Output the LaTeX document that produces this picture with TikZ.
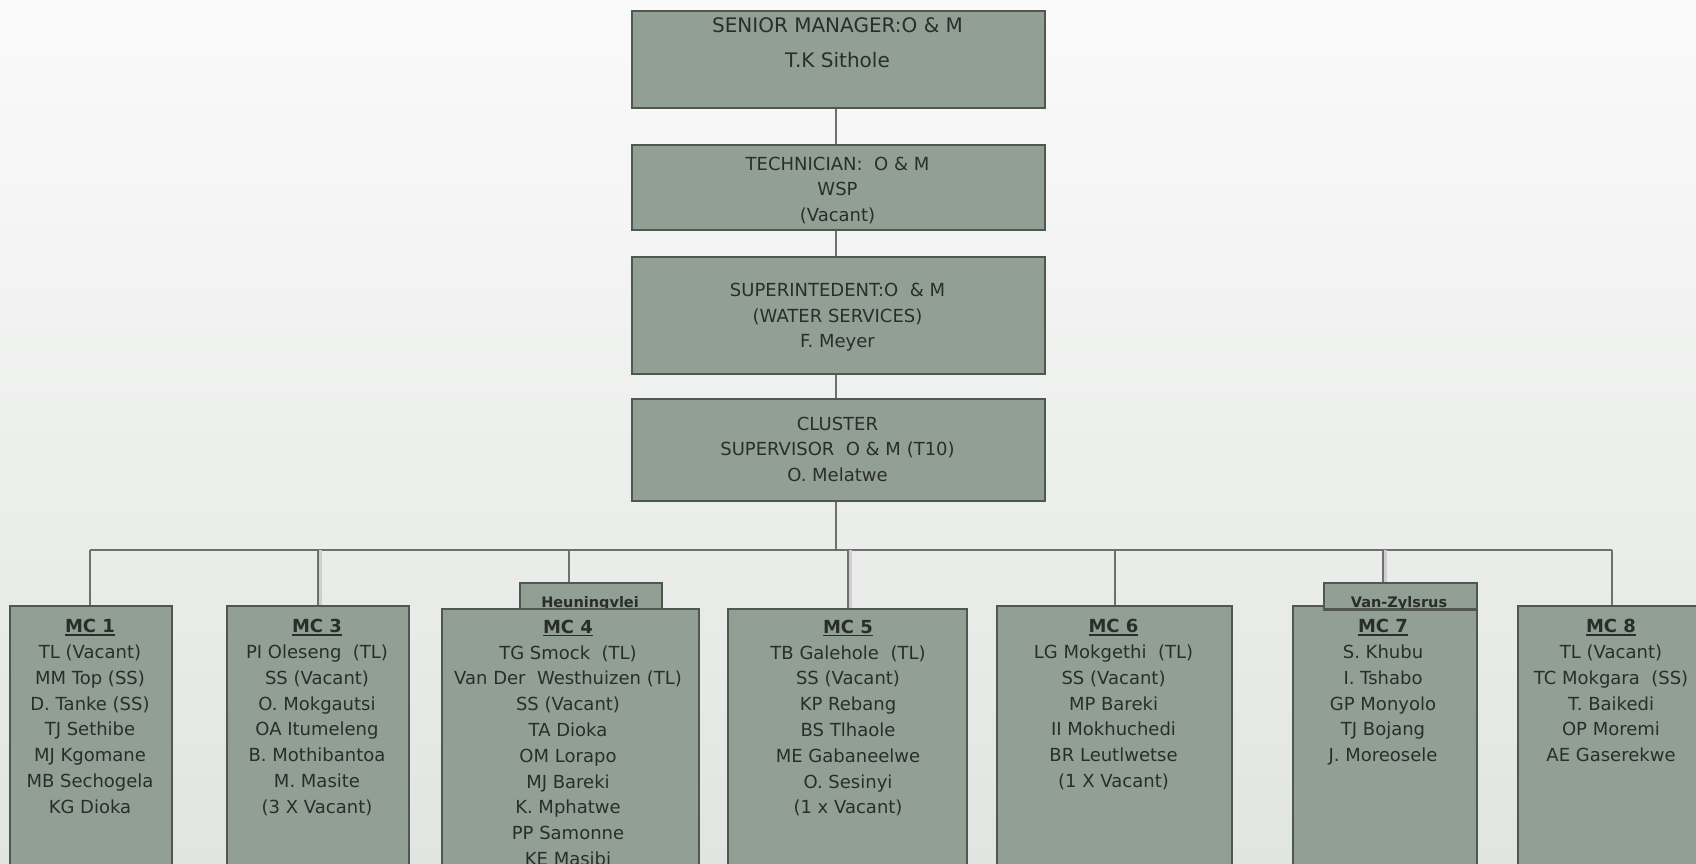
\documentclass[tikz,border=0pt]{standalone}
\usepackage{fontspec}
\setmainfont{DejaVu Sans}
\usetikzlibrary{calc}

\definecolor{bgtop}{HTML}{FAFAFA}
\definecolor{bgbot}{HTML}{E1E5E1}
\definecolor{boxfill}{HTML}{929F95}
\definecolor{boxline}{HTML}{505751}
\definecolor{connline}{HTML}{6F6F6F}
\definecolor{connlight}{HTML}{CFCFCF}
\definecolor{inkc}{HTML}{2A2E2B}

% bold, underlined heading of a maintenance crew box
\newcommand\crewhead[1]{\setbox0\hbox{\bfseries #1}\rlap{\color{inkc}\rule[-3pt]{\wd0}{1.6pt}}\box0}

\tikzset{
  orgbox/.style={draw=boxline, fill=boxfill, line width=2pt, inner sep=0pt,
                 anchor=north west, rectangle},
  bodytext/.style={text=inkc, inner sep=0pt, anchor=north, align=center,
                   font=\fontsize{18}{25.8}\selectfont},
  toptext/.style={bodytext, font=\fontsize{18}{25.5}\selectfont},
  bigtext/.style={bodytext, font=\fontsize{20}{35}\selectfont},
  tabtext/.style={text=inkc, inner sep=0pt, anchor=base,
                  font=\fontsize{14.5}{16}\selectfont\bfseries},
  conn/.style={draw=connline, line width=2pt},
  busline/.style={draw=connline, line width=2.5pt},
  softconn/.style={draw=connlight, line width=3pt},
}

\begin{document}
\begin{tikzpicture}[x=1pt, y=-1pt]
  \useasboundingbox (0,0) rectangle (1696,864);
  \clip (0,0) rectangle (1696,864);
  \shade[top color=bgtop, bottom color=bgbot] (0,0) rectangle (1696,864);

  % management chain
  \node[orgbox, minimum width=413pt, minimum height=97pt]  (senior)  at (631,10)  {};
  \node[orgbox, minimum width=413pt, minimum height=85pt]  (tech)    at (631,144) {};
  \node[orgbox, minimum width=413pt, minimum height=117pt] (super)   at (631,256) {};
  \node[orgbox, minimum width=413pt, minimum height=102pt] (cluster) at (631,398) {};

  % distribution bus
  \coordinate (busL) at (90,550);
  \coordinate (busR) at (1612,550);
  \coordinate (busC) at (836,550);
  \coordinate (j4) at (569,550);
  \coordinate (j5) at (847.5,550);
  \coordinate (j7) at (1383,550);

  % maintenance crews (tabs name the area served; the crew box overlaps the tab)
  \node[orgbox, minimum width=162pt, minimum height=300pt] (mc1) at (9,605)    {};
  \node[orgbox, minimum width=182pt, minimum height=300pt] (mc3) at (226,605)  {};
  \node[orgbox, minimum width=142pt, minimum height=26pt]  (tab4) at (519,582) {};
  \node[tabtext] (tab4t) at (590,607) {Heuningvlei};
  \node[orgbox, minimum width=257pt, minimum height=300pt] (mc4) at (441,608)  {};
  \node[orgbox, minimum width=239pt, minimum height=300pt] (mc5) at (727,608)  {};
  \node[orgbox, minimum width=235pt, minimum height=300pt] (mc6) at (996,605)  {};
  \node[orgbox, minimum width=184pt, minimum height=300pt] (mc7) at (1292,605) {};
  \node[orgbox, minimum width=153pt, minimum height=26pt]  (tab7) at (1323,582) {};
  \node[tabtext] (tab7t) at (1399,607) {Van-Zylsrus};
  \draw[boxline, line width=2pt] (tab7.south west) -- (tab7.south east);
  \node[orgbox, minimum width=200pt, minimum height=300pt] (mc8) at (1517,605) {};

  % connectors
  \draw[conn] (senior.south -| busC) -- (tech.north -| busC);
  \draw[conn] (tech.south -| busC) -- (super.north -| busC);
  \draw[conn] (super.south -| busC) -- (cluster.north -| busC);
  \draw[conn] (cluster.south -| busC) -- (busC);
  \draw[busline] (busL) -- (busR);
  \draw[conn] (busL) -- (mc1.north -| busL);
  \draw[softconn] ($(mc3.north)+(2.5,0)$) -- ($(mc3.north |- busL)+(2.5,0)$);
  \draw[conn] (mc3.north |- busL) -- (mc3.north);
  \draw[conn] (j4) -- (tab4.north -| j4);
  \draw[softconn] ($(mc5.north -| j5)+(2.5,0)$) -- ($(j5)+(2.5,0)$);
  \draw[conn] (j5) -- (mc5.north -| j5);
  \draw[conn] (mc6.north |- busL) -- (mc6.north);
  \draw[softconn] ($(tab7.north -| j7)+(2.5,0)$) -- ($(j7)+(2.5,0)$);
  \draw[conn] (j7) -- (tab7.north -| j7);
  \draw[conn] (busR) -- (mc8.north -| busR);

  % texts of the management chain
  \node[bigtext] (seniort) at (837.5,8) {\strut SENIOR MANAGER:O \& M\\T.K Sithole};
  \node[toptext] (techt) at (837.5,152) {\strut TECHNICIAN:\ \ O \& M\\WSP\\(Vacant)};
  \node[toptext] (supert) at (837.5,278.6) {\strut SUPERINTEDENT:O\ \ \& M\\(WATER SERVICES)\\F. Meyer};
  \node[toptext] (clustert) at (837.5,412) {\strut CLUSTER\\SUPERVISOR\ \ O \& M (T10)\\O. Melatwe};

  % texts of the crews
  \node[bodytext] (mc1t) at (90,614.4) {\strut\crewhead{MC 1}\\TL (Vacant)\\MM Top (SS)\\D. Tanke (SS)\\TJ Sethibe\\MJ Kgomane\\MB Sechogela\\KG Dioka};
  \node[bodytext] (mc3t) at (317,614.4) {\strut\crewhead{MC 3}\\PI Oleseng\ \ (TL)\\SS (Vacant)\\O. Mokgautsi\\OA Itumeleng\\B. Mothibantoa\\M. Masite\\(3 X Vacant)};
  \node[bodytext] (mc4t) at (568,615) {\strut\crewhead{MC 4}\\TG Smock\ \ (TL)\\Van Der\ \ Westhuizen (TL)\\SS (Vacant)\\TA Dioka\\OM Lorapo\\MJ Bareki\\K. Mphatwe\\PP Samonne\\KE Masibi};
  \node[bodytext] (mc5t) at (848,615) {\strut\crewhead{MC 5}\\TB Galehole\ \ (TL)\\SS (Vacant)\\KP Rebang\\BS Tlhaole\\ME Gabaneelwe\\O. Sesinyi\\(1 x Vacant)};
  \node[bodytext] (mc6t) at (1113.5,614.4) {\strut\crewhead{MC 6}\\LG Mokgethi\ \ (TL)\\SS (Vacant)\\MP Bareki\\II Mokhuchedi\\BR Leutlwetse\\(1 X Vacant)};
  \node[bodytext] (mc7t) at (1383,614.4) {\strut\crewhead{MC 7}\\S. Khubu\\I. Tshabo\\GP Monyolo\\TJ Bojang\\J. Moreosele};
  \node[bodytext] (mc8t) at (1611,614.4) {\strut\crewhead{MC 8}\\TL (Vacant)\\TC Mokgara\ \ (SS)\\T. Baikedi\\OP Moremi\\AE Gaserekwe};
\end{tikzpicture}
\end{document}
